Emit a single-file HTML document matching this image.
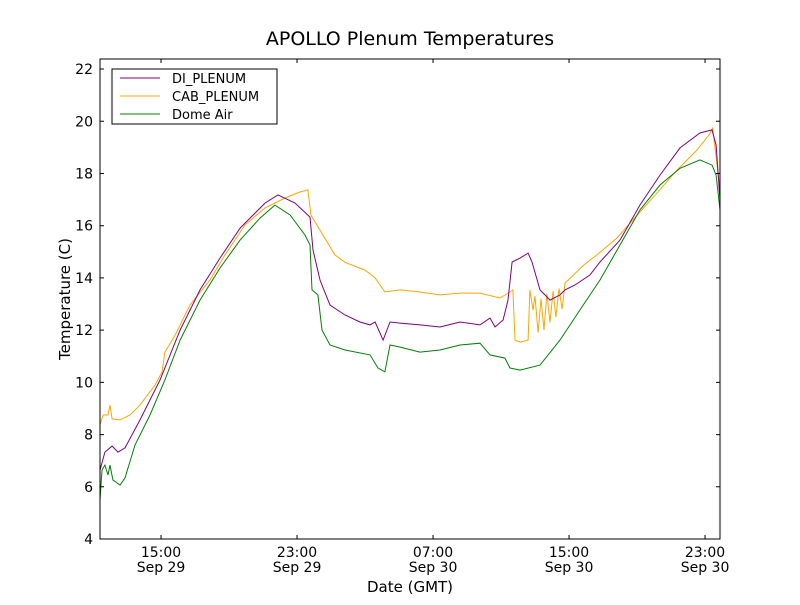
<!DOCTYPE html>
<html><head><meta charset="utf-8"><style>
body{margin:0;background:#fff;}
svg{font-family:"DejaVu Sans","Liberation Sans",sans-serif;}
</style></head><body>
<svg id="c" width="800" height="600">
<rect width="800" height="600" fill="#fff"/>
<text x="410" y="45" font-size="19" text-anchor="middle">APOLLO Plenum Temperatures</text>
<g id="plot"></g>
<rect x="100" y="59" width="620" height="480" fill="none" stroke="#000"/>
<g id="axes"></g>
<text x="410" y="592" font-size="15" text-anchor="middle">Date (GMT)</text>
<text transform="translate(70,299) rotate(-90)" font-size="15" text-anchor="middle">Temperature (C)</text>
<g>
<rect x="112" y="69" width="165" height="55" fill="#fff" stroke="#000"/>
<line x1="120" y1="78" x2="160" y2="78" stroke="purple"/>
<text x="172" y="83" font-size="13">DI_PLENUM</text>
<line x1="120" y1="96" x2="160" y2="96" stroke="orange"/>
<text x="172" y="101" font-size="13">CAB_PLENUM</text>
<line x1="120" y1="114" x2="160" y2="114" stroke="green"/>
<text x="172" y="119" font-size="13">Dome Air</text>
</g>
</svg>
<script>
// hours since Sep 29 00:00 GMT
const diT=[11.41,11.70,12.12,12.47,12.88,13.76,14.94,16.12,17.29,18.47,19.65,21.12,21.88,22.88,23.76,23.94,24.35,24.94,25.82,26.7,27.29,27.59,28.06,28.47,29.06,30.23,31.41,32.59,33.76,34.35,34.65,35.12,35.41,35.65,36.12,36.59,36.82,37.29,37.88,38.47,38.76,39.35,40.23,40.82,42,43.17,44.35,45.53,46.7,47.41,47.65,47.88];
const diV=[6.64,7.33,7.56,7.33,7.49,8.56,10.09,12.0,13.54,14.76,15.91,16.87,17.18,16.87,16.33,15.07,13.92,12.96,12.58,12.31,12.2,12.31,11.62,12.31,12.27,12.2,12.12,12.31,12.2,12.46,12.12,12.39,13.15,14.61,14.76,14.95,14.61,13.54,13.15,13.35,13.54,13.73,14.11,14.61,15.45,16.79,17.94,18.98,19.55,19.67,19.09,16.98];
const cabT=[11.41,11.59,11.88,12.0,12.12,12.59,13.17,13.76,14.65,15.06,15.23,15.82,16.7,17.88,18.76,19.94,21.12,22.29,23.17,23.64,23.82,24.35,25.23,25.82,27.0,27.59,28.17,29.06,30.23,31.41,32.59,33.76,34.94,35.53,35.7,35.82,36.12,36.59,36.7,36.88,37.0,37.18,37.35,37.53,37.7,37.88,38.06,38.23,38.41,38.59,38.76,39.88,40.64,41.82,43.0,44.17,45.35,46.53,47.23,47.45,47.88];
const cabV=[8.37,8.75,8.75,9.13,8.6,8.56,8.75,9.13,9.9,10.4,11.16,11.8,12.96,13.92,14.88,16.03,16.68,17.06,17.29,17.37,16.4,15.83,14.88,14.6,14.3,14.0,13.46,13.54,13.46,13.35,13.42,13.42,13.23,13.46,13.54,11.62,11.54,11.62,13.54,12.77,13.3,11.9,13.2,12.0,13.4,12.3,13.5,12.5,13.6,12.8,13.8,14.5,14.88,15.53,16.4,17.25,18.13,18.9,19.47,19.74,17.37];
const domeT=[11.41,11.53,11.70,11.88,12.0,12.17,12.59,12.88,13.47,14.35,15.23,16.12,17.29,18.47,19.65,20.82,21.7,22.59,23.47,23.76,23.88,24.23,24.47,24.94,25.82,27.29,27.76,28.17,28.47,29.06,30.23,31.41,32.59,33.76,34.35,35.23,35.53,36.12,37.29,38.47,39.64,40.82,42.0,43.17,44.35,45.53,46.7,47.41,47.65,47.88];
const domeV=[5.5,6.64,6.83,6.45,6.83,6.26,6.07,6.34,7.6,8.75,10.09,11.62,13.15,14.38,15.45,16.29,16.79,16.41,15.64,15.26,13.54,13.35,12.0,11.43,11.24,11.05,10.55,10.4,11.43,11.35,11.16,11.24,11.43,11.5,11.05,10.93,10.55,10.47,10.66,11.62,12.77,13.92,15.26,16.6,17.56,18.2,18.52,18.32,17.94,16.6];
const yTicks=[4,6,8,10,12,14,16,18,20,22];
const xTicks=[15,23,31,39,47];
const xTickTime=["15:00","23:00","07:00","15:00","23:00"];
const xTickDate=["Sep 29","Sep 29","Sep 30","Sep 30","Sep 30"];

const X0=100,X1=720,Y0=539,Y1=59,xmin=11.41,xmax=47.88,ymin=4,ymax=22.385;
const sx=h=>X0+(h-xmin)/(xmax-xmin)*(X1-X0);
const sy=v=>Y0-(v-ymin)/(ymax-ymin)*(Y0-Y1);
const NS="http://www.w3.org/2000/svg";
const plot=document.getElementById('plot'),axes=document.getElementById('axes');
function series(T,V,color,name){
  const p=document.createElementNS(NS,'path');
  p.setAttribute('d',T.map((t,i)=>(i?'L':'M')+sx(t).toFixed(1)+','+sy(V[i]).toFixed(1)).join(''));
  p.setAttribute('fill','none');p.setAttribute('stroke',color);p.setAttribute('stroke-width','1');
  
  
  plot.appendChild(p);
}
series(cabT,cabV,'orange','cab-plenum-line');
series(diT,diV,'purple','di-plenum-line');
series(domeT,domeV,'green','dome-air-line');
yTicks.forEach(v=>{
  const y=sy(v);
  const l=document.createElementNS(NS,'path');
  l.setAttribute('d',`M100,${y}h4M720,${y}h-4`);l.setAttribute('stroke','#000');
  
  
  axes.appendChild(l);
  const t=document.createElementNS(NS,'text');
  t.setAttribute('x',93);t.setAttribute('y',y+5);t.setAttribute('font-size','14');t.setAttribute('text-anchor','end');
  t.textContent=v;
  
  
  axes.appendChild(t);
});
xTicks.forEach((h,i)=>{
  const x=sx(h);
  const l=document.createElementNS(NS,'path');
  l.setAttribute('d',`M${x},539v-4M${x},59v4`);l.setAttribute('stroke','#000');
  
  
  axes.appendChild(l);
  [[xTickTime[i],557],[xTickDate[i],572]].forEach(([s,y])=>{
    const t=document.createElementNS(NS,'text');
    t.setAttribute('x',x);t.setAttribute('y',y);t.setAttribute('font-size','14');t.setAttribute('text-anchor','middle');
    t.textContent=s;
    
    
    axes.appendChild(t);
  });
});
</script>
</body></html>
